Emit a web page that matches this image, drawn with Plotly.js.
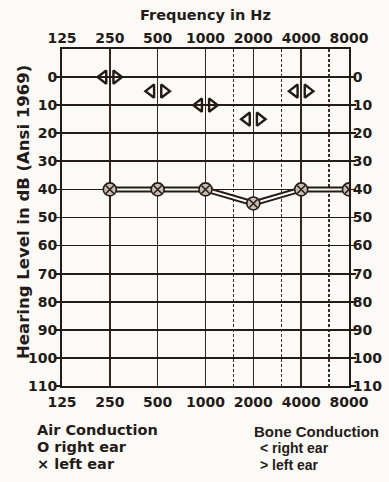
<!DOCTYPE html>
<html><head><meta charset="utf-8">
<script src="https://cdn.plot.ly/plotly-3.0.1.min.js"></script>
<style>html,body{margin:0;padding:0;background:#fbfaf7;} #chart{width:389px;height:482px;}</style>
</head><body><div id="chart"></div>
<script>
// ---- data ----
const frequencies = [250, 500, 1000, 2000, 4000, 8000];
const airRightEar = [40, 40, 40, 45, 40, 40];
const airLeftEar = [40, 40, 40, 45, 40, 40];
const boneFrequencies = [250, 500, 1000, 2000, 4000];
const boneRightEar = [0, 5, 10, 15, 5];
const boneLeftEar = [0, 5, 10, 15, 5];
const freqTickVals = [125, 250, 500, 1000, 2000, 4000, 8000];
const freqTickText = ['125', '250', '500', '1000', '2000', '4000', '8000'];
const midOctaveVals = [1500, 3000, 6000];
const dbTickVals = [0, 10, 20, 30, 40, 50, 60, 70, 80, 90, 100, 110];
const dbTickText = ['0', '10', '20', '30', '40', '50', '60', '70', '80', '90', '100', '110'];

// ---- styling ----
const W = 389, H = 482;
const M = {l: 62, r: 40, t: 49, b: 96};
const ink = '#241b17';
const bg = '#fbfaf7';
const pw = W - M.l - M.r, ph = H - M.t - M.b;
const px = x => (x - M.l) / pw;
const py = y => (H - M.b - y) / ph;
const boneShift = Math.pow(2, 0.135); // symbols sit either side of the frequency line

const traces = [
  {x: frequencies, y: airRightEar, mode: 'lines', line: {color: ink, width: 6}, hoverinfo: 'skip'},
  {x: frequencies, y: airLeftEar, mode: 'lines', line: {color: bg, width: 2}, hoverinfo: 'skip'},
  {x: frequencies, y: airRightEar, mode: 'markers', name: 'Air right',
   marker: {symbol: 'circle', size: 13, color: '#c8beb2', line: {color: ink, width: 1.6}}},
  {x: frequencies, y: airLeftEar, mode: 'markers', name: 'Air left',
   marker: {symbol: 'x-thin-open', size: 8, color: ink, line: {color: ink, width: 1.5}}},
  {x: boneFrequencies.map(f => f / boneShift), y: boneRightEar, mode: 'markers', name: 'Bone right',
   xaxis: 'x2', yaxis: 'y2',
   marker: {symbol: 'triangle-left-open', size: 11.5, color: ink, line: {color: ink, width: 2.4}}},
  {x: boneFrequencies.map(f => f * boneShift), y: boneLeftEar, mode: 'markers', name: 'Bone left',
   xaxis: 'x2', yaxis: 'y2',
   marker: {symbol: 'triangle-right-open', size: 11.5, color: ink, line: {color: ink, width: 2.4}}}
];

const xRange = [Math.log10(125), Math.log10(8000)];
const tickFont = {family: 'DejaVu Sans', size: 14, weight: 'bold', color: ink};

const layout = {
  width: W, height: H, margin: M,
  paper_bgcolor: bg, plot_bgcolor: bg,
  showlegend: false,
  font: {family: 'DejaVu Sans', color: ink},
  xaxis: {
    type: 'log', range: xRange, tickmode: 'array', tickvals: freqTickVals, ticktext: freqTickText,
    showgrid: true, gridcolor: '#33261e', gridwidth: 1.6,
    showline: true, linecolor: ink, linewidth: 2, ticks: '', zeroline: false,
    tickfont: tickFont, ticklabelstandoff: 2,
    minor: {tickmode: 'array', tickvals: midOctaveVals, showgrid: true, gridcolor: '#3e3026', gridwidth: 1.5, griddash: '3px,2px', ticks: ''}
  },
  xaxis2: {
    type: 'log', range: xRange, overlaying: 'x', side: 'top', tickmode: 'array',
    tickvals: freqTickVals, ticktext: freqTickText, showgrid: false,
    showline: true, linecolor: ink, linewidth: 2, ticks: '', zeroline: false,
    tickfont: tickFont, ticklabelstandoff: -2,
    title: {text: 'Frequency in Hz', font: {family: 'DejaVu Sans', size: 14.5, weight: 'bold', color: ink}, standoff: 6}
  },
  yaxis: {
    range: [110, -10], tickmode: 'array', tickvals: dbTickVals, ticktext: dbTickText,
    showgrid: true, gridcolor: ink, gridwidth: 1.8,
    showline: true, linecolor: ink, linewidth: 2, zeroline: false,
    ticks: 'outside', ticklen: 5, tickwidth: 1.8, tickcolor: ink,
    tickfont: tickFont, ticklabelstandoff: -5
  },
  yaxis2: {
    range: [110, -10], overlaying: 'y', side: 'right', tickmode: 'array', tickvals: dbTickVals, ticktext: dbTickText,
    showgrid: false, showline: true, linecolor: ink, linewidth: 2, zeroline: false,
    ticks: 'outside', ticklen: 5, tickwidth: 1.8, tickcolor: ink,
    tickfont: tickFont, ticklabelstandoff: -6
  },
  annotations: [
    {text: 'Hearing Level in dB (Ansi 1969)', x: px(23), y: py(212), size: 16.5, angle: -90, anchor: 'center'},
    {text: 'Air Conduction', x: px(35), y: py(430), size: 14.5},
    {text: 'O right ear', x: px(35), y: py(447), size: 14.5},
    {text: '× left ear', x: px(35), y: py(464), size: 14.5},
    {text: 'Bone Conduction', x: px(252), y: py(431), size: 15, family: 'Liberation Sans'},
    {text: '< right ear', x: px(258), y: py(448), size: 14, family: 'Liberation Sans'},
    {text: '> left ear', x: px(258), y: py(465), size: 14, family: 'Liberation Sans'}
  ].map(a => ({text: a.text, x: a.x, y: a.y, xref: 'paper', yref: 'paper',
    xanchor: a.anchor || 'left', yanchor: 'middle', textangle: a.angle || 0,
    showarrow: false, font: {family: a.family || 'DejaVu Sans', size: a.size, weight: 'bold', color: ink}}))
};

Plotly.newPlot('chart', traces, layout, {displayModeBar: false, staticPlot: true});
</script>
</body></html>
